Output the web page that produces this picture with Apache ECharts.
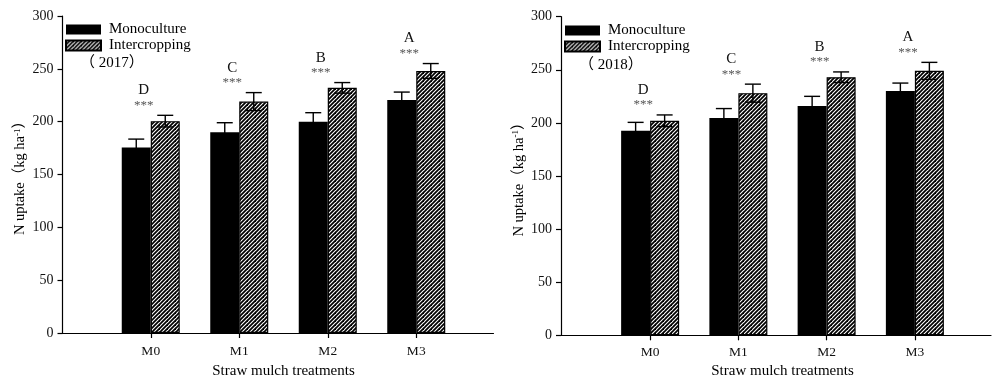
<!DOCTYPE html>
<html><head><meta charset="utf-8">
<script src="https://cdn.jsdelivr.net/npm/echarts@6/dist/echarts.min.js"></script>
<style>html,body{margin:0;padding:0;background:#fff}#c{width:992px;height:376px}</style>
</head><body><div id="c"></div>
<script>
// ---- data ----
const categories = ['M0', 'M1', 'M2', 'M3'];
const seriesNames = ['Monoculture', 'Intercropping'];
const yearLabels = ['（ 2017）', '（ 2018）'];
const yMin = 0, yMax = 300, yStep = 50;
const xTitle = 'Straw mulch treatments';
const yTitle = 'N uptake（kg ha{sup|-1}）';

const mono2017 = [175.5, 190, 200, 220.5];
const mono2017Err = [8, 9, 8.5, 7.5];
const inter2017 = [200.5, 219, 232, 248];
const inter2017Err = [5.5, 8.5, 5, 7];

const mono2018 = [192.5, 204.5, 216, 230];
const mono2018Err = [8, 9, 9, 7.5];
const inter2018 = [202, 228, 243, 249];
const inter2018Err = [5.5, 8.5, 5, 8];

const letters2017 = ['D', 'C', 'B', 'A'];
const letters2018 = ['D', 'C', 'B', 'A'];
const stars2017 = ['***', '***', '***', '***'];
const stars2018 = ['***', '***', '***', '***'];

// ---- styling ----
const FONT = "'Liberation Serif', 'Times New Roman', 'Noto Sans CJK SC', serif";

function makeHatch() {
  const n = 8;
  const c = document.createElement('canvas');
  c.width = n; c.height = n;
  const g = c.getContext('2d');
  g.fillStyle = '#fff'; g.fillRect(0, 0, n, n);
  g.strokeStyle = '#000'; g.lineWidth = 1.8;
  for (let k = -n; k <= 3 * n; k += 4) {
    g.beginPath(); g.moveTo(k + 2, -2); g.lineTo(k - n - 2, n + 2); g.stroke();
  }
  return c;
}
const hatch = { image: makeHatch(), repeat: 'repeat' };

function errorRender(offset) {
  return function (params, api) {
    const i = api.value(0), v = api.value(1), e = api.value(2);
    const hi = api.coord([i, v + e]), lo = api.coord([i, v - e]);
    const x = hi[0] + offset, hw = 8;
    const st = { stroke: '#000', lineWidth: 1.4 };
    return { type: 'group', children: [
      { type: 'line', shape: { x1: x, y1: hi[1], x2: x, y2: lo[1] }, style: st },
      { type: 'line', shape: { x1: x - hw, y1: hi[1], x2: x + hw, y2: hi[1] }, style: st },
      { type: 'line', shape: { x1: x - hw, y1: lo[1], x2: x + hw, y2: lo[1] }, style: st }
    ]};
  };
}

function sigRender(letters, stars) {
  return function (params, api) {
    const i = api.value(0);
    const p = api.coord([i, api.value(1)]);
    const x = p[0] - 7;
    return { type: 'group', children: [
      { type: 'text', style: { text: stars[i], x: x, y: p[1] - 10, align: 'center', verticalAlign: 'middle',
        font: '13px ' + FONT, fill: '#555' } },
      { type: 'text', style: { text: letters[i], x: x, y: p[1] - 25, align: 'center', verticalAlign: 'middle',
        font: '15px ' + FONT, fill: '#111' } }
    ]};
  };
}

const panels = [
  { frame: { left: 62.5, top: 16, width: 431, height: 317 },
    inner: { left: 106.5, top: 16, width: 354, height: 317 },
    labelMargin: 12, nameGap: 23,
    mono: mono2017, monoErr: mono2017Err, inter: inter2017, interErr: inter2017Err,
    letters: letters2017, stars: stars2017, year: yearLabels[0],
    legendPos: { left: 65, top: 22 }, yearPos: { left: 80, top: 56 } },
  { frame: { left: 561, top: 16.7, width: 430, height: 318.6 },
    inner: { left: 606, top: 16.7, width: 353, height: 318.6 },
    labelMargin: 10, nameGap: 21,
    mono: mono2018, monoErr: mono2018Err, inter: inter2018, interErr: inter2018Err,
    letters: letters2018, stars: stars2018, year: yearLabels[1],
    legendPos: { left: 564, top: 23 }, yearPos: { left: 579, top: 58 } }
];

const grid = [], xAxis = [], yAxis = [], series = [], legend = [], title = [];
panels.forEach((p, k) => {
  const ga = 2 * k, gb = 2 * k + 1;
  grid.push(Object.assign({ containLabel: false, outerBoundsMode: 'none' }, p.frame),
            Object.assign({ containLabel: false, outerBoundsMode: 'none' }, p.inner));
  xAxis.push({
    gridIndex: ga, type: 'value', min: 0, max: 1,
    axisLine: { show: true, lineStyle: { color: '#000', width: 1.2 } },
    axisTick: { show: false }, axisLabel: { show: false }, splitLine: { show: false }
  });
  xAxis.push({
    gridIndex: gb, type: 'category', data: categories,
    axisLine: { show: false },
    axisTick: { show: true, alignWithLabel: true, length: 5, lineStyle: { color: '#000', width: 1.2 } },
    axisLabel: { fontFamily: FONT, fontSize: 13.5, color: '#111', margin: p.labelMargin },
    splitLine: { show: false },
    name: xTitle, nameLocation: 'middle', nameGap: p.nameGap,
    nameTextStyle: { fontFamily: FONT, fontSize: 15, color: '#000' }
  });
  yAxis.push({
    gridIndex: ga, type: 'value', min: yMin, max: yMax, interval: yStep,
    axisLine: { show: true, lineStyle: { color: '#000', width: 1.2 } },
    axisTick: { show: true, length: 5, lineStyle: { color: '#000', width: 1.2 } },
    axisLabel: { fontFamily: FONT, fontSize: 14, color: '#111', margin: 9 },
    splitLine: { show: false },
    name: yTitle, nameLocation: 'middle', nameGap: 35, nameRotate: 90,
    nameTextStyle: { fontFamily: FONT, fontSize: 14.5, color: '#000',
      rich: { sup: { fontFamily: FONT, fontSize: 9, verticalAlign: 'top', color: '#000' } } }
  });
  yAxis.push({ gridIndex: gb, type: 'value', min: yMin, max: yMax, show: false });

  series.push({
    name: seriesNames[0], type: 'bar', xAxisIndex: gb, yAxisIndex: gb,
    data: p.mono, barWidth: 29, barGap: '0%',
    itemStyle: { color: '#000' }, emphasis: { disabled: true }
  });
  series.push({
    name: seriesNames[1], type: 'bar', xAxisIndex: gb, yAxisIndex: gb,
    data: p.inter, barWidth: 29, barGap: '0%',
    itemStyle: { color: hatch, borderColor: '#000', borderWidth: 1.2 }, emphasis: { disabled: true }
  });
  series.push({
    type: 'custom', xAxisIndex: gb, yAxisIndex: gb, z: 5, silent: true,
    renderItem: errorRender(-14.5), encode: { x: 0, y: 1 },
    data: p.mono.map((v, i) => [i, v, p.monoErr[i]])
  });
  series.push({
    type: 'custom', xAxisIndex: gb, yAxisIndex: gb, z: 5, silent: true,
    renderItem: errorRender(14.5), encode: { x: 0, y: 1 },
    data: p.inter.map((v, i) => [i, v, p.interErr[i]])
  });
  series.push({
    type: 'custom', xAxisIndex: gb, yAxisIndex: gb, z: 6, silent: true,
    renderItem: sigRender(p.letters, p.stars), encode: { x: 0, y: 1 },
    data: p.inter.map((v, i) => [i, v + p.interErr[i]])
  });

  legend.push({
    left: p.legendPos.left, top: p.legendPos.top, orient: 'vertical', padding: 0,
    itemWidth: 35, itemHeight: 10, itemGap: 1, icon: 'rect', selectedMode: false,
    data: seriesNames,
    textStyle: { fontFamily: FONT, fontSize: 15, color: '#000', padding: [0, 0, 0, 3] }
  });
  title.push({
    text: p.year, left: p.yearPos.left, top: p.yearPos.top, padding: 0,
    textStyle: { fontFamily: FONT, fontSize: 15, fontWeight: 'normal', color: '#000' }
  });
});

const chart = echarts.init(document.getElementById('c'), null, { renderer: 'canvas' });
chart.setOption({
  animation: false,
  backgroundColor: '#fff',
  title, legend, grid, xAxis, yAxis, series
});
</script>
</body></html>
